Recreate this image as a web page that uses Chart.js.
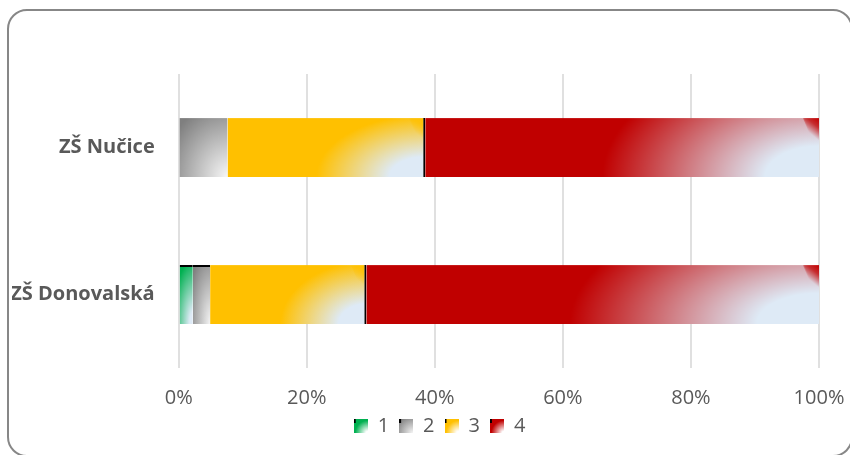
<!DOCTYPE html>
<html>
<head>
<meta charset="utf-8">
<script src="https://cdn.jsdelivr.net/npm/chart.js@4.4.0/dist/chart.umd.min.js"></script>
<style>
html, body { margin: 0; padding: 0; background: #fff; overflow: hidden; }
#wrap { position: relative; width: 850px; height: 455px; }
#frame { position: absolute; left: 7px; top: 9px; width: 846px; height: 448px; box-sizing: border-box;
         border: 2px solid #878787; border-radius: 20px; }
#mycanvas { position: absolute; left: 0; top: 0; }
</style>
</head>
<body>
<div id="wrap"><div id="frame"></div><canvas id="mycanvas" width="850" height="455"></canvas></div>
<script>
// data (percent of each school)
var schools = ['ZŠ Nučice', 'ZŠ Donovalská'];
var seriesNames = ['1', '2', '3', '4'];
var s1 = [0, 2.2];
var s2 = [7.6, 2.7];
var s3 = [30.9, 24.4];
var s4 = [61.5, 70.7];
var tickLabels = ['0%', '20%', '40%', '60%', '80%', '100%'];

var values = [s1, s2, s3, s4];
var colors = ['#00b050', '#7f7f7f', '#ffc000', '#c00000'];
var glow = '#deeaf6';
// gradient shape per series: radius x, radius y (share of bar size), light colour, plateau
var shapes = [
  {rx: 1.4, ry: 1.1, light: glow, flat: 0.2},
  {rx: 1.3, ry: 1.3, light: '#f7f7f7', flat: 0},
  {rx: 0.55, ry: 1.05, light: glow, flat: 0.33, wedge: true},
  {rx: 0.55, ry: 2.1, light: glow, flat: 0.25, wedge: true}
];

var PLOT_LEFT = 178.7;
var PAD_LEFT = 12;

function hexA(hex, a) {
  var n = parseInt(hex.slice(1), 16);
  return 'rgba(' + (n >> 16) + ',' + ((n >> 8) & 255) + ',' + (n & 255) + ',' + a + ')';
}

function paintGrad(cv, w, h, base, sh) {
  var g = cv.getContext('2d');
  g.save();
  g.translate(w, h);
  g.scale(sh.rx * w, sh.ry * h);
  var rg = g.createRadialGradient(0, 0, 0, 0, 0, 1);
  rg.addColorStop(0, sh.light);
  if (sh.flat > 0) rg.addColorStop(sh.flat, sh.light);
  rg.addColorStop(1, base);
  g.fillStyle = rg;
  g.fillRect(-1 / sh.rx, -1 / sh.ry, 1 / sh.rx, 1 / sh.ry);
  g.restore();
  if (sh.wedge && w > 40) {
    // darker corner seam at the top right, as the office gradient leaves it
    var ww = 16, wh = 0.65 * h;
    var lg = g.createLinearGradient(w, 0, w - ww * 0.7, wh * 0.35);
    lg.addColorStop(0, base);
    lg.addColorStop(0.45, hexA(base, 0.75));
    lg.addColorStop(1, hexA(base, 0));
    g.beginPath();
    g.moveTo(w - ww, 0); g.lineTo(w, 0); g.lineTo(w, wh); g.closePath();
    g.fillStyle = lg;
    g.fill();
  }
}

function barFill(c) {
  var di = c.datasetIndex;
  if (c.type !== 'data') return colors[di];
  var chart = c.chart, xs = chart.scales.x, ys = chart.scales.y;
  if (!xs || !ys) return colors[di];
  var i = c.dataIndex;
  var start = 0;
  for (var k = 0; k < di; k++) start += values[k][i];
  var l = xs.getPixelForValue(start), r = xs.getPixelForValue(start + values[di][i]);
  var band = ys.height / schools.length * 0.8 * 0.5;
  var top = ys.getPixelForValue(i) - band / 2;
  var w = Math.max(1, Math.ceil(r - l)), h = Math.max(1, Math.ceil(band));
  var cv = document.createElement('canvas');
  cv.width = w; cv.height = h;
  paintGrad(cv, w, h, colors[di], shapes[di]);
  var pat = chart.ctx.createPattern(cv, 'no-repeat');
  pat.setTransform(new DOMMatrix().translateSelf(l, top));
  return pat;
}

function swatch(i) {
  var cv = document.createElement('canvas');
  cv.width = 14; cv.height = 14;
  var sh = i === 1 ? {rx: 1.3, ry: 1.3, light: '#f7f7f7', flat: 0} : {rx: 0.9, ry: 0.9, light: '#ffffff', flat: 0.15};
  paintGrad(cv, 14, 14, colors[i], sh);
  var g = cv.getContext('2d');
  g.fillStyle = '#000';
  g.fillRect(0, 0, 2, 4);
  return cv;
}

var datasets = [];
for (var d = 0; d < values.length; d++) {
  datasets.push({
    label: seriesNames[d],
    data: values[d],
    backgroundColor: barFill,
    borderColor: '#000',
    borderWidth: d === 2 ? {top: 0, right: 2, bottom: 0, left: 0} :
      (d < 2 ? function(c) { return c.dataIndex === 1 ? {top: 2, right: 0, bottom: 0, left: 0} : 0; } : 0),
    borderSkipped: false,
    categoryPercentage: 0.8,
    barPercentage: 0.5
  });
}

// the legend sits a bit right of the canvas centre, as in the original
var legendNudge = {
  id: 'legendNudge',
  afterLayout: function(chart) {
    var lg = chart.legend;
    if (!lg) return;
    lg.left += 24; lg.right += 24;
  }
};

var ctx = document.getElementById('mycanvas');
var barGraph = new Chart(ctx, {
  type: 'bar',
  data: { labels: schools, datasets: datasets },
  plugins: [legendNudge],
  options: {
    indexAxis: 'y',
    responsive: false,
    animation: false,
    events: [],
    layout: { padding: { left: PAD_LEFT, right: 31, top: 74, bottom: 9 } },
    scales: {
      x: {
        stacked: true, min: 0, max: 100,
        border: { display: false },
        grid: { color: '#e0e0e0', lineWidth: 2, drawTicks: false },
        ticks: {
          stepSize: 20, padding: 4, color: '#595959',
          font: { family: 'Open Sans', size: 20, lineHeight: 2.65 },
          callback: function(v, idx) { return tickLabels[idx]; }
        },
        afterFit: function(scale) { scale.height = 38; }
      },
      y: {
        stacked: true,
        border: { display: false },
        grid: { display: false, drawTicks: false },
        ticks: { padding: 24, color: '#595959', font: { family: 'Open Sans', size: 20, weight: 'bold' } },
        afterFit: function(scale) { scale.width = PLOT_LEFT - PAD_LEFT; }
      }
    },
    plugins: {
      tooltip: { enabled: false },
      legend: {
        position: 'bottom',
        labels: {
          usePointStyle: true, boxWidth: 14, boxHeight: 14, padding: 10,
          color: '#595959', font: { family: 'Open Sans', size: 20 },
          generateLabels: function(chart) {
            return chart.data.datasets.map(function(ds, i) {
              return { text: ds.label, pointStyle: swatch(i), fillStyle: colors[i], strokeStyle: 'rgba(0,0,0,0)',
                       lineWidth: 0, fontColor: '#595959', hidden: false, datasetIndex: i };
            });
          }
        }
      }
    }
  }
});
</script>
</body>
</html>
